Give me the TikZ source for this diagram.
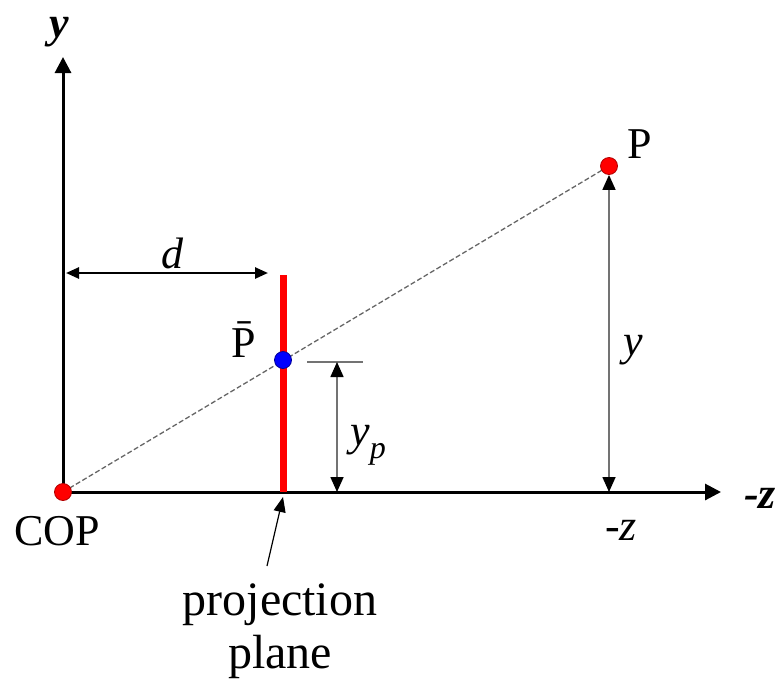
\documentclass[tikz,border=0pt]{standalone}
\usepackage{fontspec}
\setmainfont{LiberationSerif}[Extension=.ttf, UprightFont=*-Regular, ItalicFont=*-Italic, BoldFont=*-Bold, BoldItalicFont=*-BoldItalic]
\usetikzlibrary{arrows.meta}
\begin{document}
\begin{tikzpicture}[x=1pt,y=-1pt,
  lbl/.style={inner sep=0pt, anchor=base, font=\rmfamily\fontsize{44}{46}\selectfont},
  axis/.style={line width=3pt, -{Triangle[length=16pt,width=16pt]}},
  dimarrow/.style={line width=2.5pt, {Triangle[length=13pt,width=11pt]}-{Triangle[length=13pt,width=11pt]}},
  gdim/.style={draw=black!55, line width=1.6pt, {Triangle[length=15pt,width=13pt,color=black]}-{Triangle[length=15pt,width=13pt,color=black]}},
  tick/.style={draw=black!55, line width=1.6pt},
  ray/.style={draw=black!60, line width=1.3pt, dash pattern=on 5pt off 2.5pt},
  dot/.style={circle, inner sep=0pt, minimum size=17pt, line width=0.8pt},
  pointer/.style={line width=1.2pt, -{Triangle[length=15pt,width=12pt]}}
]
\useasboundingbox (0,0) rectangle (781,678);

% coordinates
\coordinate (O) at (63,492);
\coordinate (ytip) at (63,57);
\coordinate (ztip) at (721,492);
\coordinate (planetop) at (283,275);
\coordinate (planebot) at (283,492);
\coordinate (dL) at (66,273);
\coordinate (dR) at (268,273);
\coordinate (tickL) at (307,362);
\coordinate (tickR) at (363,362);
\coordinate (ypTop) at (337,362);
\coordinate (ypBot) at (337,492);
\coordinate (Pfoot) at (609,492);
\coordinate (ptrStart) at (267,566);
\coordinate (ptrEnd) at (283,497);

% axes
\draw[axis] (O) -- (ytip);
\draw[axis] (O) -- (ztip);

% projection plane
\draw[red, line width=7pt] (planetop) -- (planebot);

% ray
\draw[ray] (O) -- (609,166);

% d dimension
\draw[dimarrow] (dL) -- (dR);

% y_p dimension
\draw[tick] (tickL) -- (tickR);
\draw[gdim] (ypTop) -- (ypBot);

% points
\node[dot, fill=red, draw=red!70!black] (P) at (609,166) {};
\node[dot, fill=blue, draw=blue!60!black] (Pbar) at (283,360) {};
\node[dot, fill=red, draw=red!70!black] (COP) at (O) {};

% y dimension
\draw[gdim] (P.south) -- (Pfoot);

% pointer
\draw[pointer] (ptrStart) -- (ptrEnd);

% labels
\node[lbl, font=\rmfamily\fontsize{44}{46}\selectfont\bfseries\itshape] (ylab) at (59,37) {y};
\node[lbl, font=\rmfamily\fontsize{44}{46}\selectfont\bfseries\itshape] (zlab) at (760,508) {-z};
\node[lbl] (Plab) at (640,158) {P};
\node[lbl] (Pbarlab) at (244,357) {\={P}};
\node[lbl, font=\rmfamily\fontsize{44}{46}\selectfont\itshape] (dlab) at (172,268) {d};
\node[lbl, font=\rmfamily\fontsize{44}{46}\selectfont\itshape] (ylab2) at (633,355) {y};
\node[lbl, font=\rmfamily\fontsize{44}{46}\selectfont\itshape] (yplab) at (368,445) {y\raisebox{-0.3em}{\fontsize{32}{32}\selectfont p}};
\node[lbl, font=\rmfamily\fontsize{44}{46}\selectfont\itshape] (zlab2) at (621,540) {-z};
\node[lbl] (coplab) at (57,545) {COP};
\node[lbl, font=\rmfamily\fontsize{48}{48}\selectfont] (pplab1) at (280,615) {projection};
\node[lbl, font=\rmfamily\fontsize{48}{48}\selectfont] (pplab2) at (280,668) {plane};
\end{tikzpicture}
\end{document}
